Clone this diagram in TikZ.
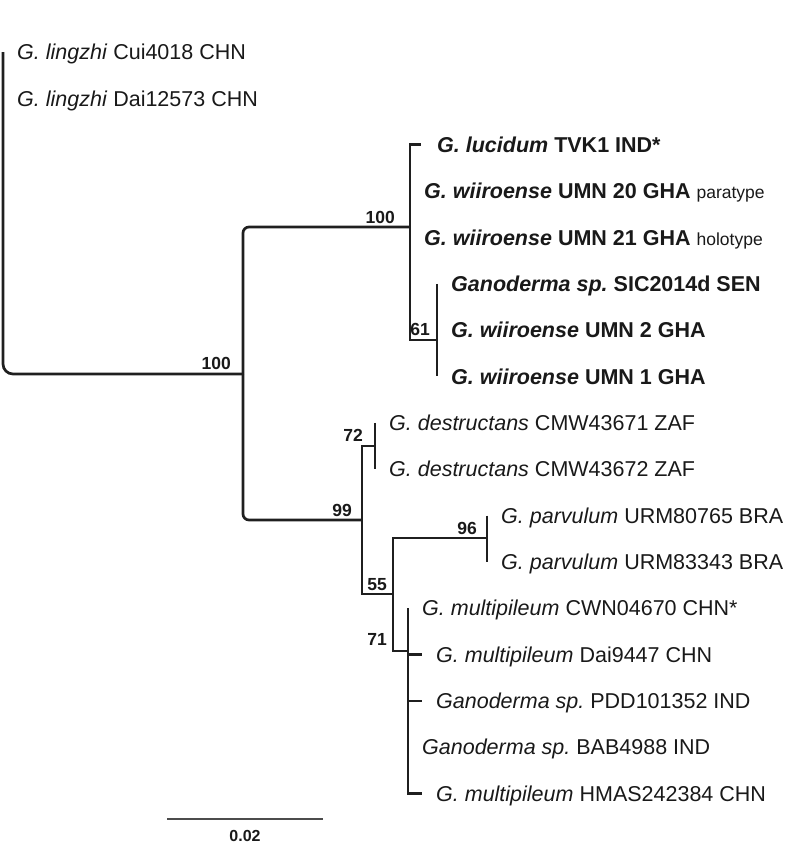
\documentclass[tikz,border=0pt]{standalone}
\usepackage{fontspec}
\setmainfont{Liberation Sans}
\usepackage{tikz}
\usetikzlibrary{positioning}
\frenchspacing

\begin{document}
\begin{tikzpicture}[
    x=1pt,
    y=-1pt,
    branch/.style={
        line width=2.7pt,
        draw=black!88
    },
    taxon/.style={
        inner sep=0pt,
        text=black!90,
        text height=15.4pt,
        text depth=0pt,
        font=\fontsize{21.5}{24}\selectfont
    },
    boot/.style={
        inner sep=0pt,
        text=black!90,
        font=\fontsize{17.5}{19}\selectfont\bfseries
    },
    scalebar/.style={
        line width=1.5pt,
        draw=black!70
    }
]

\useasboundingbox (0,0) rectangle (789,844);

\coordinate (t1) at (3,52);
\coordinate (t2) at (3,98.35);
\coordinate (t3) at (421,144.7);
\coordinate (t4) at (410,191.05);
\coordinate (t5) at (410,237.4);
\coordinate (t6) at (437,283.75);
\coordinate (t7) at (437,330.1);
\coordinate (t8) at (437,376.45);
\coordinate (t9) at (375,422.8);
\coordinate (t10) at (375,469.15);
\coordinate (t11) at (487,515.5);
\coordinate (t12) at (487,561.85);
\coordinate (t13) at (408,608.2);
\coordinate (t14) at (422,654.55);
\coordinate (t15) at (422,700.9);
\coordinate (t16) at (408,747.25);
\coordinate (t17) at (422,793.6);

\coordinate (nA) at (243,374);
\coordinate (nB) at (410,227);
\coordinate (nC) at (437,340);
\coordinate (nD) at (362,520);
\coordinate (nE) at (375,446);
\coordinate (nF) at (393,594);
\coordinate (nG) at (487,538);
\coordinate (nH) at (408,651);
\coordinate (kH) at (nF |- nH);

\draw[branch, rounded corners=10pt] (t1) |- (nA);
\draw[branch, rounded corners=6pt] (nA) |- (nB);
\draw[branch, rounded corners=6pt] (nA) |- (nD);
\draw[branch] (nB) |- (t3);
\draw[branch] (nB) |- (nC);
\draw[branch] (t6) -- (t8);
\draw[branch] (nD) |- (nE);
\draw[branch] (nD) |- (nF);
\draw[branch] (t9) -- (t10);
\draw[branch] (nF) |- (nG);
\draw[branch] (nF) |- (nH);
\draw[branch] (t11) -- (t12);
\draw[branch] (t13) |- (t17);
\draw[branch] (nH |- t14) -- (t14);
\draw[branch] (nH |- t15) -- (t15);

\node[taxon, right=14pt of t1] (l1) {\textit{G. lingzhi} Cui4018 CHN};
\node[taxon, right=14pt of t2] (l2) {\textit{G. lingzhi} Dai12573 CHN};
\node[taxon, right=16pt of t3] (l3) {\textbf{\textit{G. lucidum} TVK1 IND*}};
\node[taxon, right=14pt of t4] (l4)
{\textbf{\textit{G. wiiroense} UMN 20 GHA} {\fontsize{17.5}{20}\selectfont paratype}};
\node[taxon, right=14pt of t5] (l5)
{\textbf{\textit{G. wiiroense} UMN 21 GHA} {\fontsize{17.5}{20}\selectfont holotype}};
\node[taxon, right=14pt of t6] (l6) {\textbf{\textit{Ganoderma sp.} SIC2014d SEN}};
\node[taxon, right=14pt of t7] (l7) {\textbf{\textit{G. wiiroense} UMN 2 GHA}};
\node[taxon, right=14pt of t8] (l8) {\textbf{\textit{G. wiiroense} UMN 1 GHA}};
\node[taxon, right=14pt of t9] (l9) {\textit{G. destructans} CMW43671 ZAF};
\node[taxon, right=14pt of t10] (l10) {\textit{G. destructans} CMW43672 ZAF};
\node[taxon, right=14pt of t11] (l11) {\textit{G. parvulum} URM80765 BRA};
\node[taxon, right=14pt of t12] (l12) {\textit{G. parvulum} URM83343 BRA};
\node[taxon, right=14pt of t13] (l13) {\textit{G. multipileum} CWN04670 CHN*};
\node[taxon, right=14pt of t14] (l14) {\textit{G. multipileum} Dai9447 CHN};
\node[taxon, right=14pt of t15] (l15) {\textit{Ganoderma sp.} PDD101352 IND};
\node[taxon, right=14pt of t16] (l16) {\textit{Ganoderma sp.} BAB4988 IND};
\node[taxon, right=14pt of t17] (l17) {\textit{G. multipileum} HMAS242384 CHN};

\node[boot, above left=4pt and 12pt of nA] (bA) {100};
\node[boot, above left=3pt and 15pt of nB] (bB) {100};
\node[boot, above left=4pt and 7pt of nC] (bC) {61};
\node[boot, above left=3pt and 10pt of nD] (bD) {99};
\node[boot, above left=4pt and 12pt of nE] (bE) {72};
\node[boot, above left=3pt and 6pt of nF] (bF) {55};
\node[boot, above left=3pt and 10pt of nG] (bG) {96};
\node[boot, above left=5pt and 6pt of kH] (bH) {71};

\coordinate (s0) at (167,819);
\coordinate (s1) at (323,819);
\draw[scalebar] (s0) -- (s1);
\node[boot, font=\fontsize{16}{18}\selectfont\bfseries, text height=11.5pt, text depth=0pt]
    (sl) at (245,835.5) {0.02};

\end{tikzpicture}
\end{document}
